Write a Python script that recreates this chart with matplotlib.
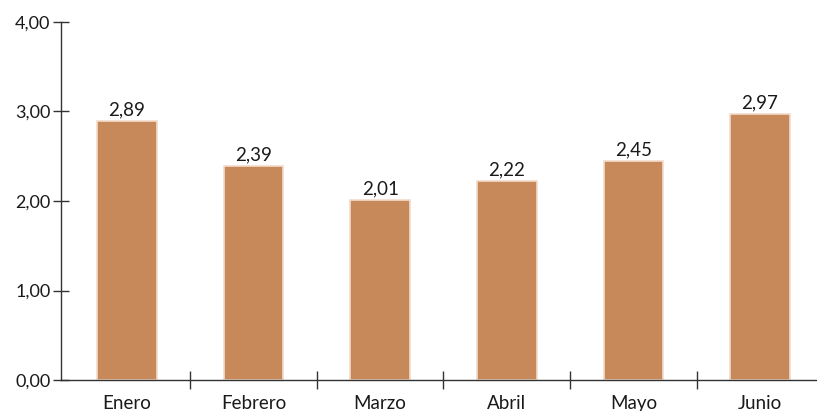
import matplotlib.pyplot as plt
import numpy as np

months = ["Enero", "Febrero", "Marzo", "Abril", "Mayo", "Junio"]
values = [2.89, 2.39, 2.01, 2.22, 2.45, 2.97]
y_ticks = [0, 1, 2, 3, 4]

plt.rcParams["font.family"] = ["Lato", "DejaVu Sans"]

fig = plt.figure(figsize=(8.17, 4.11), dpi=100)
ax = fig.add_axes([61 / 817, 31 / 411, 1 - 61 / 817, 358 / 411])

x = np.arange(len(months))
bars = ax.bar(x, values, width=0.47, color="#C8895A", edgecolor="#F2DCCB", linewidth=1.2)

for b, v in zip(bars, values):
    ax.text(b.get_x() + b.get_width() / 2, v + 0.03, f"{v:.2f}".replace(".", ","),
            ha="center", va="bottom", fontsize=13.5, color="#1a1a1a")

ax.set_xlim(-0.52, 5.45)
ax.set_ylim(0, 4)

ax.set_yticks(y_ticks)
ax.set_yticklabels([f"{t:.2f}".replace(".", ",") for t in y_ticks], fontsize=13, color="#1a1a1a")
ax.tick_params(axis="y", direction="inout", length=11, width=1, color="#333333", pad=2)

ax.set_xticks(x[:-1] + 0.5)
ax.set_xticklabels([])
ax.set_xticks(x, minor=True)
ax.set_xticklabels(months, minor=True, fontsize=13.5, color="#1a1a1a")
ax.tick_params(axis="x", which="major", direction="inout", length=13, width=1, color="#333333")
ax.tick_params(axis="x", which="minor", length=0, pad=11)

for s in ["top", "right"]:
    ax.spines[s].set_visible(False)
for s in ["left", "bottom"]:
    ax.spines[s].set_color("#333333")
    ax.spines[s].set_linewidth(1)

fig.savefig("out.png", dpi=100)
